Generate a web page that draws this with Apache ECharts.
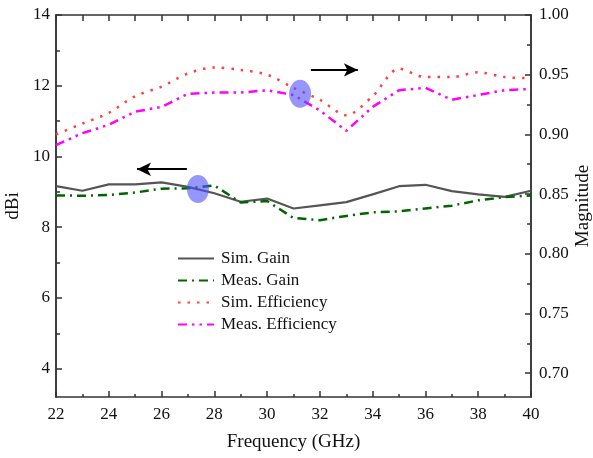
<!DOCTYPE html>
<html><head><meta charset="utf-8">
<script src="https://cdn.jsdelivr.net/npm/echarts@6/dist/echarts.min.js"></script>
<style>html,body{margin:0;padding:0;background:#fff}#c{width:593px;height:458px}</style>
</head><body><div id="c"></div>
<script>
const freq = [22,23,24,25,26,27,28,29,30,31,32,33,34,35,36,37,38,39,40];
const simGain = [9.16,9.03,9.21,9.21,9.27,9.14,8.96,8.72,8.81,8.53,8.62,8.71,8.93,9.16,9.20,9.02,8.93,8.86,9.03];
const measGain = [8.90,8.89,8.91,8.98,9.09,9.10,9.18,8.70,8.74,8.26,8.20,8.32,8.42,8.45,8.53,8.61,8.76,8.85,8.90];
const simEff = [0.900,0.909,0.918,0.932,0.940,0.951,0.956,0.954,0.950,0.939,0.929,0.916,0.932,0.955,0.948,0.948,0.952,0.948,0.947];
const measEff = [0.891,0.901,0.908,0.919,0.923,0.934,0.935,0.935,0.937,0.933,0.920,0.903,0.923,0.937,0.939,0.929,0.933,0.937,0.938];
const leftTicks = [4,6,8,10,12,14];
const leftMinor = [5,7,9,11,13];
const rightTicks = [0.70,0.75,0.80,0.85,0.90,0.95,1.00];
const rightMinor = [0.725,0.775,0.825,0.875,0.925,0.975];
const names = ['Sim. Gain','Meas. Gain','Sim. Efficiency','Meas. Efficiency'];

const F = 'Liberation Serif';
const axisCol = '#333';
const pair = (xs, ys) => xs.map((x,i)=>[x, ys[i]]);
const chart = echarts.init(document.getElementById('c'));
const yBase = (pos, min, max) => ({
  type:'value', position:pos, min:min, max:max,
  axisLine:{show:true, lineStyle:{color:axisCol, width:1.5}},
  splitLine:{show:false}
});
chart.setOption({
  animation:false,
  backgroundColor:'#fff',
  grid:{left:56, right:62, top:15, bottom:61, containLabel:false, outerBoundsMode:'none'},
  legend:{
    orient:'vertical', left:172, top:245, itemWidth:36, itemHeight:14, itemGap:5,
    data:names, itemStyle:{opacity:0},
    textStyle:{fontFamily:F, fontSize:17, color:'#111', padding:[0,0,0,2]}
  },
  xAxis:[
    {type:'value', min:22, max:40, interval:2, position:'bottom',
     name:'Frequency (GHz)', nameLocation:'middle', nameGap:36, nameMoveOverlap:false,
     nameTextStyle:{fontFamily:F, fontSize:19, color:'#111'},
     axisLine:{lineStyle:{color:axisCol, width:1.5}},
     axisTick:{inside:true, length:6, lineStyle:{color:axisCol, width:1.5}},
     minorTick:{show:true, splitNumber:2, length:3, lineStyle:{color:axisCol, width:1.5}},
     axisLabel:{fontFamily:F, fontSize:17, color:'#111', margin:9},
     splitLine:{show:false}, minorSplitLine:{show:false}},
    {type:'value', min:22, max:40, interval:2, position:'top',
     axisLine:{show:true, lineStyle:{color:axisCol, width:1.5}},
     axisTick:{inside:true, length:6, lineStyle:{color:axisCol, width:1.5}},
     minorTick:{show:true, splitNumber:2, length:6, lineStyle:{color:axisCol, width:1.5}},
     axisLabel:{show:false}, splitLine:{show:false}, minorSplitLine:{show:false}}
  ],
  yAxis:[
    Object.assign(yBase('left',3.2,14), {
      name:'dBi', nameLocation:'middle', nameGap:33, nameRotate:90, nameMoveOverlap:false,
      nameTextStyle:{fontFamily:F, fontSize:19, color:'#111'},
      axisTick:{show:true, inside:true, length:6, customValues:leftTicks, lineStyle:{color:axisCol, width:1.5}},
      axisLabel:{fontFamily:F, fontSize:17, color:'#111', margin:6, customValues:leftTicks}
    }),
    Object.assign(yBase('right',0.68,1.0), {
      name:'Magnitude', nameLocation:'middle', nameGap:43, nameRotate:90, nameMoveOverlap:false,
      nameTextStyle:{fontFamily:F, fontSize:19, color:'#111'},
      axisTick:{show:true, inside:true, length:6, customValues:rightTicks, lineStyle:{color:axisCol, width:1.5}},
      axisLabel:{fontFamily:F, fontSize:17, color:'#111', margin:8, customValues:rightTicks,
        formatter:v=>v.toFixed(2)}
    }),
    Object.assign(yBase('left',3.2,14), {
      axisTick:{show:true, inside:true, length:4, customValues:leftMinor, lineStyle:{color:axisCol, width:1.5}},
      axisLabel:{show:false}
    }),
    Object.assign(yBase('right',0.68,1.0), {
      axisTick:{show:true, inside:true, length:4, customValues:rightMinor, lineStyle:{color:axisCol, width:1.5}},
      axisLabel:{show:false}
    })
  ],
  series:[
    {name:names[0], type:'line', yAxisIndex:0, data:pair(freq,simGain), symbol:'none',
     lineStyle:{color:'#555', width:2.2}, itemStyle:{color:'#555'}},
    {name:names[1], type:'line', yAxisIndex:0, data:pair(freq,measGain), symbol:'none',
     lineStyle:{color:'#006400', width:2.5, type:[9,5,2,5]}, itemStyle:{color:'#006400'},
     markPoint:{silent:true, symbol:'circle', symbolSize:[22,28],
       itemStyle:{color:'rgba(80,80,255,0.6)'}, label:{show:false},
       data:[{coord:[27.38,9.08]}]},
     markLine:{silent:true, symbol:['none','arrow'], symbolSize:[10,14],
       lineStyle:{color:'#000', width:2, type:'solid'}, label:{show:false},
       data:[[{coord:[26.96,9.64]},{coord:[25.07,9.64]}]]}},
    {name:names[2], type:'line', yAxisIndex:1, data:pair(freq,simEff), symbol:'none', smooth:0.3,
     lineStyle:{color:'#ff4040', width:2.5, type:[2.5,7]}, itemStyle:{color:'#ff4040'}},
    {name:names[3], type:'line', yAxisIndex:1, data:pair(freq,measEff), symbol:'none',
     lineStyle:{color:'#ff00ff', width:2.5, type:[9,5,2.5,5,2.5,5]}, itemStyle:{color:'#ff00ff'},
     markPoint:{silent:true, symbol:'circle', symbolSize:[22,28],
       itemStyle:{color:'rgba(80,80,255,0.6)'}, label:{show:false},
       data:[{coord:[31.25,0.934]}]},
     markLine:{silent:true, symbol:['none','arrow'], symbolSize:[10,14],
       lineStyle:{color:'#000', width:2, type:'solid'}, label:{show:false},
       data:[[{coord:[31.66,0.954]},{coord:[33.44,0.954]}]]}}
  ]
});
</script></body></html>
